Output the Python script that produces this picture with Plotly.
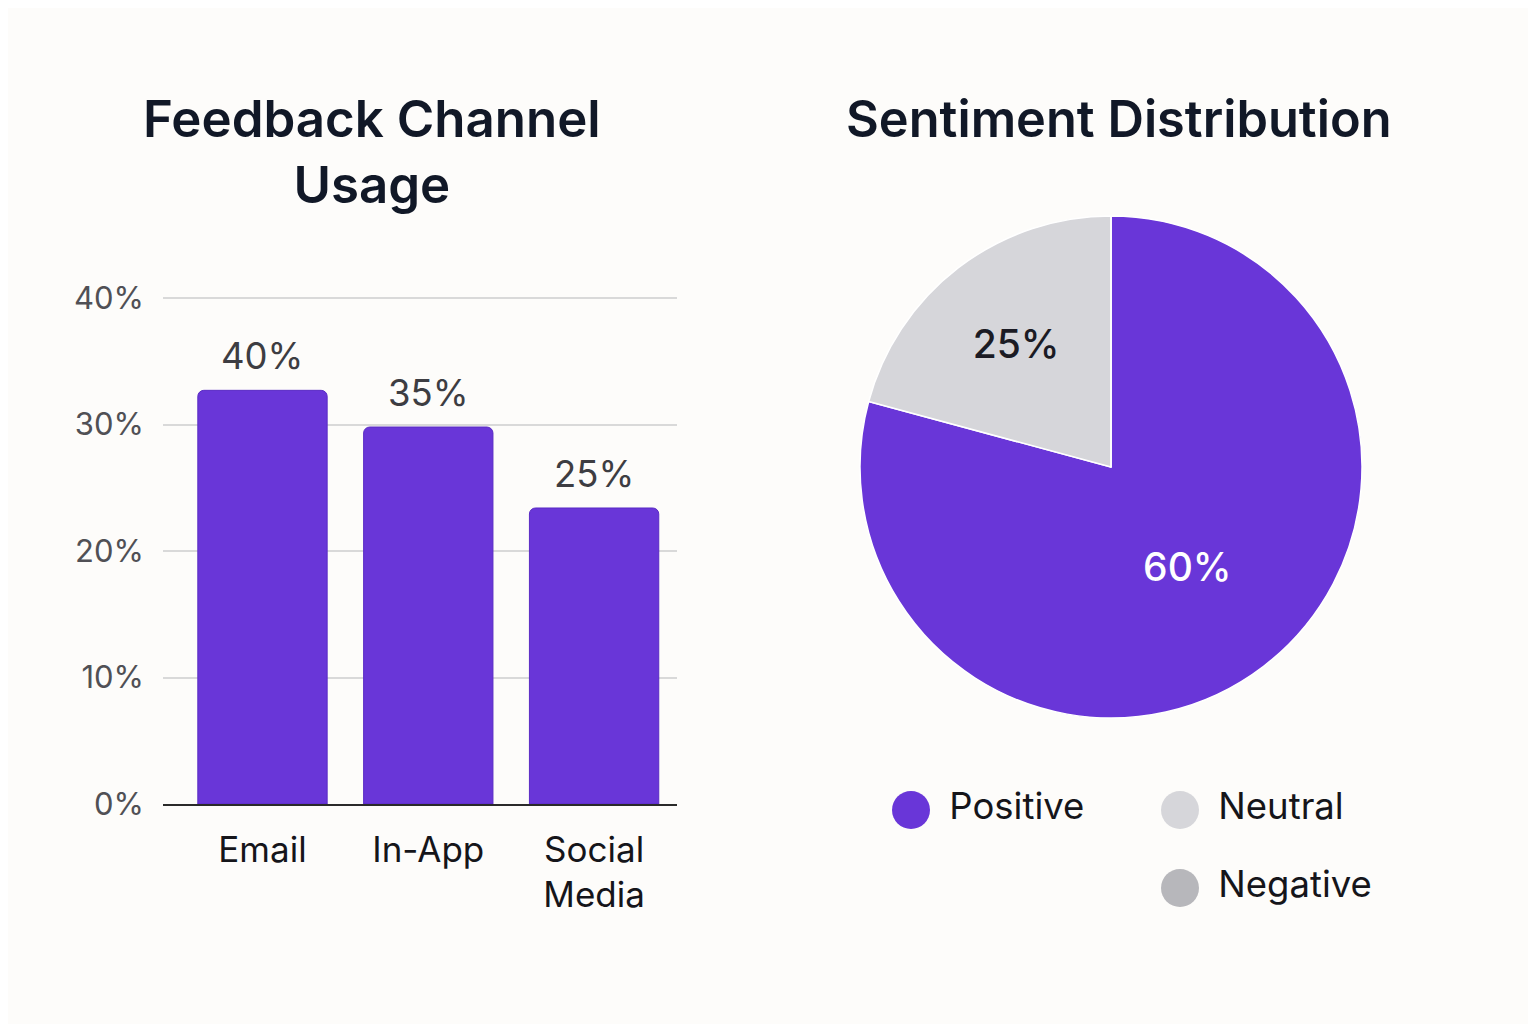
import plotly.graph_objects as go

# ---- data ----
channels = ["Email", "In-App", "Social<br>Media"]
channel_heights = [32.7, 29.8, 23.4]          # drawn bar heights (%)
channel_labels = ["40%", "35%", "25%"]         # printed labels
y_ticks = [0, 10, 20, 30, 40]
y_tick_text = ["0%", "10%", "20%", "30%", "40%"]

sentiments = ["Positive", "Neutral", "Negative"]
sentiment_shares = [79.2, 20.8, 0.0]           # drawn slice sizes
sentiment_labels = ["60%", "25%", ""]          # printed labels
legend_col = [0, 1, 1]
legend_row = [0, 0, 1]

PURPLE = "#6936d8"
NEUTRAL = "#d6d6da"
NEGATIVE = "#b7b7bb"
sent_colors = [PURPLE, NEUTRAL, NEGATIVE]
BG = "#fdfcfa"
FONT = "Inter"

W, H = 1536, 1024
OFF = 8  # page body margin offset compensation


def px_x(x):
    return (x - OFF) / W


def px_y(y):  # y measured from top
    return (H - (y - OFF)) / H


# bar plot geometry (screen px)
Y0_PX, Y40_PX, HEAD = 804, 298, 4
y_top_range = 40 * (Y0_PX - (Y40_PX - HEAD)) / (Y0_PX - Y40_PX)

fig = go.Figure()

fig.add_trace(go.Bar(
    x=channels, y=channel_heights,
    marker=dict(color=PURPLE, line=dict(color="#5a2bc4", width=1), cornerradius=6),
    showlegend=False, hoverinfo="skip",
    xaxis="x", yaxis="y",
))

fig.add_trace(go.Pie(
    labels=sentiments, values=sentiment_shares,
    text=sentiment_labels, texttemplate="%{text}", textinfo="text",
    textposition="inside",
    insidetextfont=dict(family=FONT, size=39, color=["#ffffff", "#1b1b24", "#1b1b24"], weight=500),
    marker=dict(colors=sent_colors, line=dict(color="#ffffff", width=1.5)),
    sort=False, direction="clockwise", rotation=0,
    domain=dict(x=[px_x(860), px_x(1362)], y=[px_y(718), px_y(216)]),
    showlegend=False, hoverinfo="skip",
))

# custom circular legend
fig.add_trace(go.Scatter(
    x=legend_col, y=legend_row, mode="markers+text",
    text=[" \u200a" + s for s in sentiments], textposition="middle right",
    textfont=dict(family=FONT, size=36.5, color="#15151a"),
    marker=dict(size=38, color=sent_colors, line=dict(width=0)),
    cliponaxis=False, showlegend=False, hoverinfo="skip",
    xaxis="x3", yaxis="y3",
))

bar_label_annotations = [
    dict(x=c, y=h, xref="x", yref="y", text=t, showarrow=False,
         xanchor="center", yanchor="bottom", yshift=10,
         font=dict(family=FONT, size=36.5, color="#3d3d42"))
    for c, h, t in zip(channels, channel_heights, channel_labels)
]

fig.update_layout(
    template="none",
    width=W, height=H,
    paper_bgcolor=BG, plot_bgcolor=BG,
    margin=dict(l=0, r=0, t=0, b=0, pad=0, autoexpand=False),
    bargap=0.22,
    font=dict(family=FONT),
    xaxis=dict(
        domain=[px_x(163), px_x(677)], range=[-0.6, 2.5],
        showline=True, linecolor="#2a2a2a", linewidth=1.5,
        showgrid=False, zeroline=False, ticks="", fixedrange=True, automargin=False,
        tickfont=dict(family=FONT, size=35, color="#15151a"),
        ticklabelstandoff=14,
    ),
    yaxis=dict(
        domain=[px_y(Y0_PX), px_y(Y40_PX - HEAD)], range=[0, y_top_range],
        tickvals=y_ticks, ticktext=y_tick_text,
        showgrid=True, gridcolor="#d9d9d9", gridwidth=1.5, zeroline=False,
        showline=False, ticks="", fixedrange=True, automargin=False,
        tickfont=dict(family=FONT, size=31, color="#505055"),
        ticklabelstandoff=18,
    ),
    xaxis3=dict(domain=[px_x(911), px_x(1180)], range=[0, 1], visible=False,
                fixedrange=True, automargin=False),
    yaxis3=dict(domain=[px_y(888), px_y(810)], range=[1, 0], visible=False,
                fixedrange=True, automargin=False),
    annotations=bar_label_annotations + [
        dict(text="Feedback Channel<br>Usage", x=px_x(372), y=px_y(151),
             xref="paper", yref="paper", xanchor="center", yanchor="middle",
             showarrow=False, align="center",
             font=dict(family=FONT, size=51, color="#111827", weight=600)),
        dict(text="Sentiment Distribution", x=px_x(1119), y=px_y(118),
             xref="paper", yref="paper", xanchor="center", yanchor="middle",
             showarrow=False,
             font=dict(family=FONT, size=50.5, color="#111827", weight=600)),
    ],
)

fig.write_html("out.html")
